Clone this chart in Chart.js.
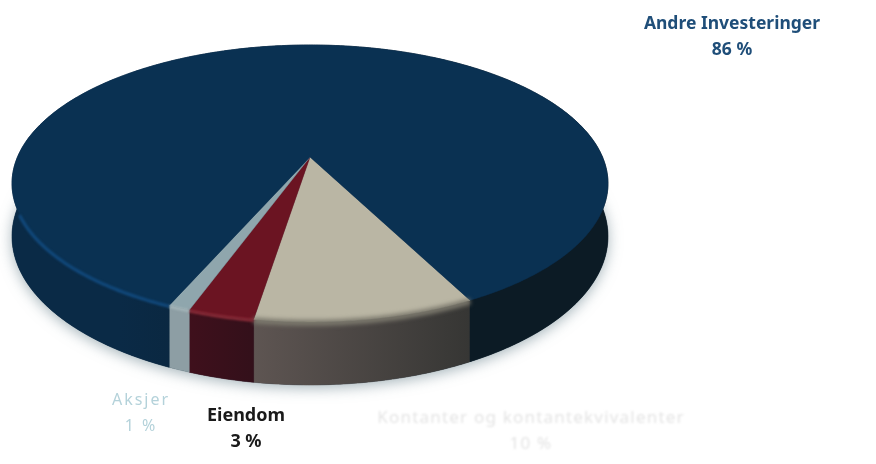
<!DOCTYPE html>
<html lang="no">

<head>
  <meta charset="UTF-8" />
  <title>Fordeling av investeringer</title>
  <script src="https://cdn.jsdelivr.net/npm/chart.js"></script>
  <style>
    html, body { margin: 0; padding: 0; background: #fff; }
    canvas { display: block; }
  </style>
</head>

<body>
  <canvas id="kakediagram" width="876" height="464"></canvas>

  <script>
    // andeler i prosent, med klokka fra hoyre kant av den lyse biten
    const kategorier = ['Kontanter og kontantekvivalenter', 'Eiendom', 'Aksjer', 'Andre Investeringer'];
    const andeler = [10, 3, 1, 86];

    // farger per bit: toppflate, kant (venstre/hoyre), lys linje langs kanten
    const toppFarger = ['#bab6a4', '#6b1422', '#8fa6ad', '#0a3152'];
    const sideVenstre = ['#5e5552', '#3f101c', '#8d9ea4', '#0a2a46'];
    const sideHoyre = ['#363634', '#33101a', '#8d9ea4', '#0c1b25'];
    const kantLinje = ['#7d7a6e', '#8c2b38', '#a3b4b8', '#114a7e'];
    const kantBredde = [6, 3, 3, 3];
    const kantBlur = ['blur(2px)', 'blur(1px)', 'blur(1px)', 'blur(1px)'];

    // tekst: senter x, linje 1 y, linje 2 y
    const etikettPlass = [[531, 423, 449], [246, 421, 447], [141, 405, 431], [732, 29, 55]];
    const etikettFarge = ['#e4e4e4', '#1a1a1a', '#b4d2da', '#1f4e79'];
    const etikettFont = ['400 17px "Noto Sans"', '700 18px "Noto Sans"', '400 16px "Noto Sans"', '700 17.5px "Noto Sans"'];
    const etikettSperring = ['1.2px', '0px', '2px', '0px'];
    const etikettBlur = ['blur(0.8px)', 'none', 'blur(0.4px)', 'none'];

    // perspektiv for skiva
    const cx = 310, cy = 157, ax = 292.5, by = 133.4, k = 0.191, hoyde = 51;

    function punkt(vinkel, dybde) {
      const u = Math.cos(vinkel), v = Math.sin(vinkel);
      const w = 1 - k * v;
      return { x: cx + ax * u / w, y: cy + (by * v + dybde * hoyde) / w };
    }

    function rim(ctx, fra, til, dybde, forste) {
      const steg = Math.max(2, Math.ceil(Math.abs(til - fra) / 0.01));
      for (let i = 0; i <= steg; i++) {
        const p = punkt(fra + (til - fra) * i / steg, dybde);
        if (i === 0 && forste) ctx.moveTo(p.x, p.y); else ctx.lineTo(p.x, p.y);
      }
    }

    const skive3d = {
      id: 'skive3d',
      beforeDatasetDraw(chart) {
        const ctx = chart.ctx;
        const buer = chart.getDatasetMeta(0).data;

        // skygge under skiva
        ctx.save();
        ctx.shadowColor = 'rgba(105,130,140,0.6)';
        ctx.shadowBlur = 14;
        ctx.shadowOffsetY = 3;
        ctx.fillStyle = '#0b2238';
        ctx.beginPath();
        rim(ctx, 0, Math.PI * 2, 1, true);
        ctx.closePath();
        ctx.fill();
        ctx.restore();

        // kanten
        buer.forEach(function (bue, i) {
          const gx = bue.endAngle - bue.startAngle > Math.PI
            ? ctx.createLinearGradient(120, 0, 470, 0)
            : ctx.createLinearGradient(punkt(bue.endAngle, 0).x, 0, punkt(bue.startAngle, 0).x, 0);
          gx.addColorStop(0, sideVenstre[i]);
          gx.addColorStop(1, sideHoyre[i]);
          ctx.fillStyle = gx;
          ctx.beginPath();
          rim(ctx, bue.startAngle, bue.endAngle, 0, true);
          rim(ctx, bue.endAngle, bue.startAngle, 1, false);
          ctx.closePath();
          ctx.fill();
          ctx.strokeStyle = gx;
          ctx.lineWidth = 0.6;
          ctx.stroke();
        });

        // toppflata
        buer.forEach(function (bue, i) {
          ctx.fillStyle = toppFarger[i];
          ctx.beginPath();
          ctx.moveTo(cx, cy);
          rim(ctx, bue.startAngle, bue.endAngle, 0, false);
          ctx.closePath();
          ctx.fill();
          ctx.strokeStyle = toppFarger[i];
          ctx.lineWidth = 0.5;
          ctx.stroke();
        });

        // lys, myk overgang langs kanten foran
        ctx.save();
        buer.forEach(function (bue, i) {
          let fra = bue.startAngle, til = bue.endAngle;
          if (i === 3) { fra = Math.max(fra, Math.PI * 0.62); til = Math.min(til, Math.PI * 0.87); }
          ctx.filter = kantBlur[i];
          ctx.lineWidth = kantBredde[i];
          ctx.strokeStyle = kantLinje[i];
          ctx.beginPath();
          rim(ctx, fra, til, 0.015, true);
          ctx.stroke();
        });
        ctx.restore();

        return false;
      },
      afterDatasetsDraw(chart) {
        const ctx = chart.ctx;
        ctx.save();
        ctx.textAlign = 'center';
        kategorier.forEach(function (navn, i) {
          const [x, y1, y2] = etikettPlass[i];
          ctx.font = etikettFont[i];
          ctx.letterSpacing = etikettSperring[i];
          ctx.filter = etikettBlur[i];
          ctx.fillStyle = etikettFarge[i];
          ctx.fillText(navn, x, y1);
          ctx.fillText(andeler[i] + ' %', x, y2);
        });
        ctx.restore();
      }
    };

    new Chart(document.getElementById('kakediagram'), {
      type: 'pie',
      data: {
        labels: kategorier,
        datasets: [{ data: andeler, backgroundColor: toppFarger, borderWidth: 0 }]
      },
      options: {
        responsive: false,
        animation: false,
        rotation: 153,
        plugins: { legend: { display: false }, tooltip: { enabled: false } }
      },
      plugins: [skive3d]
    });
  </script>
</body>

</html>
